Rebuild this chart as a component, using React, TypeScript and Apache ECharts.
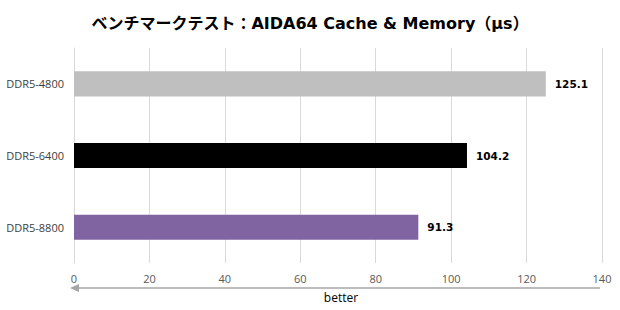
import React, { useEffect, useRef } from "react";
import * as echarts from "echarts";

const categories = ["DDR5-4800", "DDR5-6400", "DDR5-8800"];
const values = [125.1, 104.2, 91.3];
const barColors = ["#bfbfbf", "#000000", "#8064a2"];
const xTicks = [0, 20, 40, 60, 80, 100, 120, 140];

export default function App() {
  const ref = useRef<HTMLDivElement>(null);
  useEffect(() => {
    if (!ref.current) return;
    const chart = echarts.init(ref.current, undefined, { renderer: "svg" });
    const font = "'Open Sans', 'Noto Sans CJK JP', sans-serif";
    chart.setOption({
      animation: false,
      backgroundColor: "#ffffff",
      title: {
        text: "ベンチマークテスト：AIDA64 Cache & Memory（μs）",
        left: "center",
        top: 10,
        textStyle: {
          fontFamily: "'DejaVu Sans', 'Noto Sans CJK JP', sans-serif",
          fontWeight: "bold",
          fontSize: 16,
          color: "#000000",
        },
      },
      grid: { left: 74, right: 18, top: 48, bottom: 47, containLabel: false },
      xAxis: {
        type: "value",
        min: xTicks[0],
        max: xTicks[xTicks.length - 1],
        interval: 20,
        axisLine: { show: false },
        axisTick: { show: false },
        splitLine: { show: true, lineStyle: { color: "#d9d9d9", width: 1 } },
        axisLabel: { color: "#595959", fontSize: 11, fontFamily: font, margin: 10 },
      },
      yAxis: {
        type: "category",
        data: categories,
        inverse: true,
        axisLine: { show: true, lineStyle: { color: "#d9d9d9", width: 1 } },
        axisTick: { show: false },
        axisLabel: { color: "#404040", fontSize: 11, fontFamily: font, margin: 10 },
      },
      series: [
        {
          type: "bar",
          barWidth: "35%",
          data: values.map((v, i) => ({ value: v, itemStyle: { color: barColors[i] } })),
          label: {
            show: true,
            position: "right",
            distance: 9,
            color: "#000000",
            fontWeight: "bold",
            fontSize: 10.5,
            fontFamily: "'DejaVu Sans', sans-serif",
            formatter: (p: any) => p.value.toFixed(1),
          },
        },
      ],
      graphic: [
        {
          type: "line",
          shape: { x1: 600, y1: 288, x2: 78, y2: 288 },
          style: { stroke: "#a6a6a6", lineWidth: 1.5 },
        },
        {
          type: "polygon",
          shape: { points: [[70, 288], [79, 284], [79, 292]] },
          style: { fill: "#a6a6a6" },
        },
        {
          type: "text",
          x: 341,
          y: 297,
          style: {
            text: "better",
            fill: "#000000",
            fontSize: 12,
            fontFamily: font,
            textAlign: "center",
            textVerticalAlign: "middle",
          },
        },
      ],
    });
    return () => chart.dispose();
  }, []);
  return (
    <div
      ref={ref}
      style={{ position: "fixed", left: 0, top: 0, width: 620, height: 310 }}
    />
  );
}
